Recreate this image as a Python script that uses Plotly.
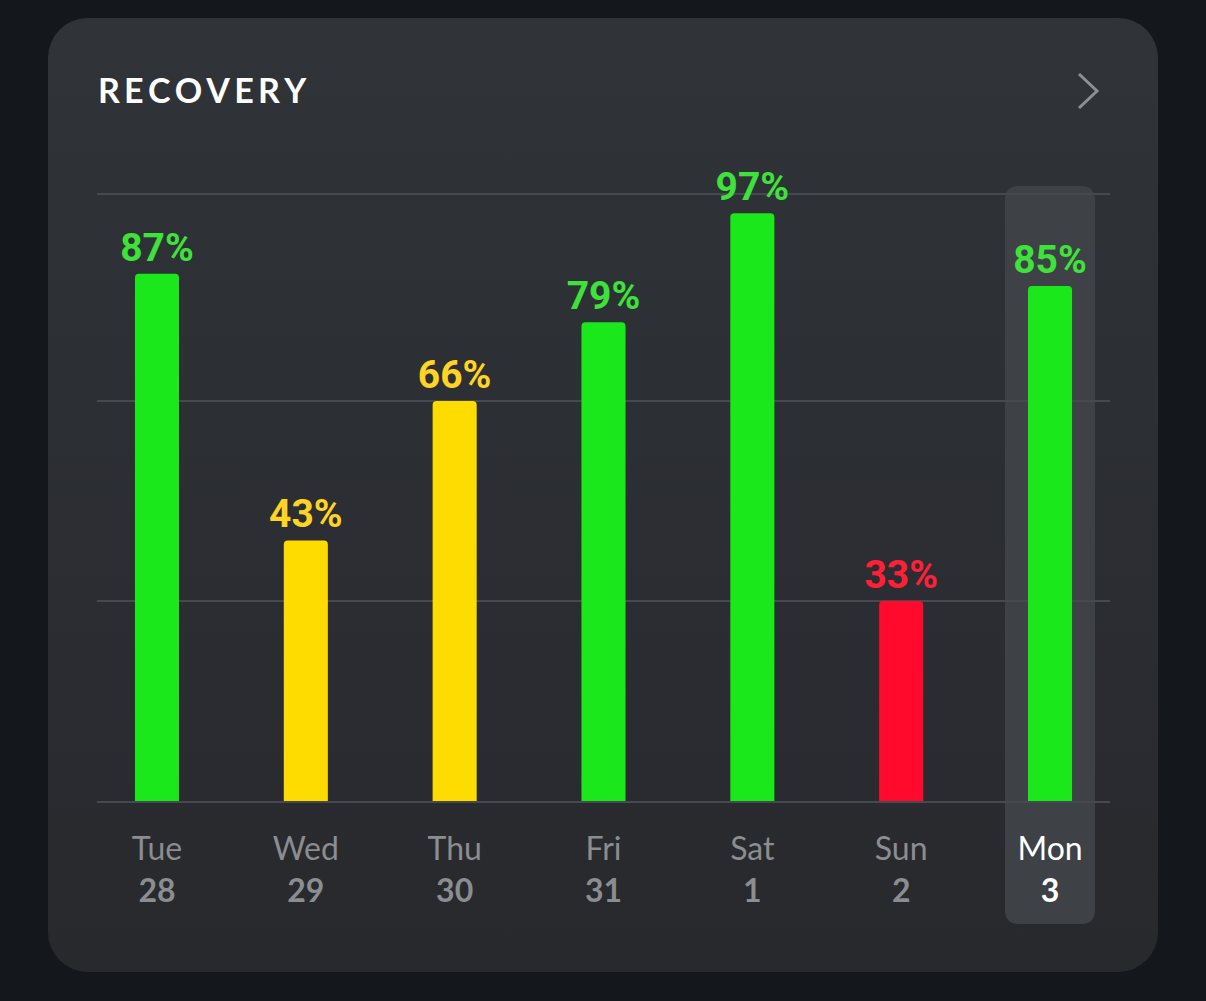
import base64
import plotly.graph_objects as go

# recovery scores for the week
days = ["Tue", "Wed", "Thu", "Fri", "Sat", "Sun", "Mon"]
dates = ["28", "29", "30", "31", "1", "2", "3"]
recovery = [87, 43, 66, 79, 97, 33, 85]
today = "Mon"

W, H = 1206, 1001


def px(x):
    return x / W


def py(y):
    return 1 - y / H


def rounded_rect(x0, y0, x1, y1, r):
    # pixel box -> svg path in paper coords, rounded with quadratic corners
    pts = [
        f"M {px(x0 + r)} {py(y0)}",
        f"L {px(x1 - r)} {py(y0)}",
        f"Q {px(x1)} {py(y0)} {px(x1)} {py(y0 + r)}",
        f"L {px(x1)} {py(y1 - r)}",
        f"Q {px(x1)} {py(y1)} {px(x1 - r)} {py(y1)}",
        f"L {px(x0 + r)} {py(y1)}",
        f"Q {px(x0)} {py(y1)} {px(x0)} {py(y1 - r)}",
        f"L {px(x0)} {py(y0 + r)}",
        f"Q {px(x0)} {py(y0)} {px(x0 + r)} {py(y0)}",
        "Z",
    ]
    return " ".join(pts)


def bar_color(v):
    if v >= 67:
        return "#1ae81a"
    if v >= 34:
        return "#ffdc00"
    return "#ff0a2c"


def text_color(v):
    if v >= 67:
        return "#3fe23a"
    if v >= 34:
        return "#ffd422"
    return "#ff2038"


# card background with a soft vertical gradient
cx0, cy0, cx1, cy1 = 48, 18, 1158, 972
card_svg = (
    f"<svg xmlns='http://www.w3.org/2000/svg' width='{cx1 - cx0}' height='{cy1 - cy0}' "
    f"viewBox='0 0 {cx1 - cx0} {cy1 - cy0}' preserveAspectRatio='none'>"
    "<defs><linearGradient id='g' x1='0' y1='0' x2='0' y2='1'>"
    "<stop offset='0' stop-color='#303338'/><stop offset='1' stop-color='#27292d'/>"
    "</linearGradient></defs>"
    f"<rect x='0' y='0' width='{cx1 - cx0}' height='{cy1 - cy0}' rx='40' ry='40' fill='url(#g)'/>"
    "</svg>"
)
card_uri = "data:image/svg+xml;base64," + base64.b64encode(card_svg.encode()).decode()

x = list(range(len(days)))
ticktext = []
for d, n in zip(days, dates):
    if d == today:
        ticktext.append(f"<span style='color:#ffffff'>{d}<br><b>{n}</b></span>")
    else:
        ticktext.append(f"{d}<br><b>{n}</b>")

fig = go.Figure()
fig.add_trace(go.Bar(
    x=x, y=recovery,
    width=0.296,
    marker=dict(color=[bar_color(v) for v in recovery], line_width=0, cornerradius=4),
    text=[f"{v}%" for v in recovery],
    textposition="outside",
    constraintext="none",
    textfont=dict(family="Roboto", size=39, weight="bold",
                  color=[text_color(v) for v in recovery]),
    cliponaxis=False,
    hoverinfo="skip",
))

shapes = [
    # highlight for today
    dict(type="path", xref="paper", yref="paper", layer="below",
         path=rounded_rect(1005, 186, 1095, 924, 14),
         fillcolor="#3e4145", line_width=0),
    # chevron
    dict(type="path", xref="paper", yref="paper",
         path=f"M {px(1079)} {py(74)} L {px(1097)} {py(91)} L {px(1079)} {py(108)}",
         line=dict(color="#8d8f92", width=3)),
]

fig.update_layout(
    width=W, height=H,
    margin=dict(l=0, r=0, t=0, b=0),
    paper_bgcolor="#14181c",
    plot_bgcolor="rgba(0,0,0,0)",
    shapes=shapes,
    images=[dict(source=card_uri, xref="paper", yref="paper",
                 x=px(cx0), y=py(cy0), sizex=(cx1 - cx0) / W, sizey=(cy1 - cy0) / H,
                 xanchor="left", yanchor="top", sizing="stretch", layer="below")],
    showlegend=False,
    annotations=[dict(
        text="<b>R\u2009E\u2009C\u2009O\u2009V\u2009E\u2009R\u2009Y</b>",
        xref="paper", yref="paper", x=px(96), y=py(90),
        xanchor="left", yanchor="middle", showarrow=False,
        font=dict(family="Lato", size=34, color="#ffffff"),
    )],
)
fig.update_xaxes(
    domain=[px(97), px(1110)],
    range=[-0.403, 6.403],
    tickvals=x, ticktext=ticktext,
    showgrid=False, zeroline=False, ticks="",
    showline=True, mirror=True, linecolor="#46494d", linewidth=2,
    layer="below traces",
    tickfont=dict(family="Lato", size=32, color="#8b8d90"),
    ticklabelstandoff=19,
)
fig.update_yaxes(
    domain=[py(801), py(195)],
    range=[0, 100],
    tickvals=[33, 66],
    showticklabels=False,
    showgrid=True, gridcolor="#46494d", gridwidth=2,
    showline=False, zeroline=False,
)

fig.write_html("out.html", config={"displayModeBar": False},
               post_script="document.body.style.margin='0';document.body.style.overflow='hidden';")
